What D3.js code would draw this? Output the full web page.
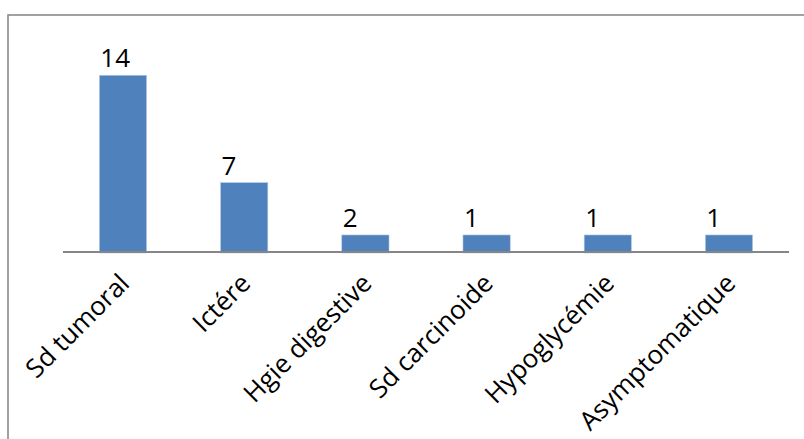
<!DOCTYPE html>
<html>
<head>
<meta charset="utf-8">
<script src="https://cdn.jsdelivr.net/npm/d3@7"></script>
<style>
  body { margin: 0; background: #fff; }
  text { font-family: "Open Sans", sans-serif; fill: #000; }
</style>
</head>
<body>
<div id="chart"></div>
<script>
let w = 804;
let h = 439;

// data
let categories = ["Sd tumoral", "Ictére", "Hgie digestive", "Sd carcinoide", "Hypoglycémie", "Asymptomatique"];
// numbers printed above the bars
let counts = [14, 7, 2, 1, 1, 1];
// bar lengths as drawn in the picture (not proportional to the printed numbers)
let barValues = [14, 5.5, 1.35, 1.35, 1.35, 1.35];

let svg = d3.select("#chart")
  .append("svg")
  .attr("width", w)
  .attr("height", h);

// chart border (only top and left visible in the crop)
svg.append("rect")
  .attr("x", 8)
  .attr("y", 15)
  .attr("width", w + 20)
  .attr("height", h + 20)
  .attr("fill", "none")
  .attr("stroke", "#8a8a8a")
  .attr("stroke-width", 1.6);

let x = d3.scaleBand()
  .domain(categories)
  .range([63, 789])
  .paddingInner(0.61)
  .paddingOuter(0.3);

let y = d3.scaleLinear()
  .domain([0, 16])
  .range([252, 50]);

let data = categories.map((c, i) => ({ cat: c, val: counts[i], bar: barValues[i] }));

// bars
svg.selectAll(".bar")
  .data(data)
  .enter()
  .append("rect")
  .attr("class", "bar")
  .attr("x", d => x(d.cat))
  .attr("y", d => y(d.bar))
  .attr("width", x.bandwidth())
  .attr("height", d => y(0) - y(d.bar) + 1)
  .attr("fill", "#4F81BD")
  .attr("stroke", "#B9CDE5")
  .attr("stroke-width", 0.6);

// x axis line
svg.append("line")
  .attr("x1", 63)
  .attr("x2", 789)
  .attr("y1", y(0))
  .attr("y2", y(0))
  .attr("stroke", "#868686")
  .attr("stroke-width", 2);

// value labels (sit over the left edge of each bar)
svg.selectAll(".val")
  .data(data)
  .enter()
  .append("text")
  .attr("class", "val")
  .attr("x", d => x(d.cat) + 1)
  .attr("y", d => y(d.bar) - 8)
  .attr("text-anchor", "start")
  .style("font-size", "26px")
  .text(d => d.val);

// category labels, rotated
svg.selectAll(".cat")
  .data(categories)
  .enter()
  .append("text")
  .attr("class", "cat")
  .attr("text-anchor", "end")
  .attr("transform", d => "translate(" + (x(d) + x.bandwidth() / 2 + 8) + "," + (y(0) + 33) + ") rotate(-45)")
  .style("font-size", "26px")
  .text(d => d);
</script>
</body>
</html>
